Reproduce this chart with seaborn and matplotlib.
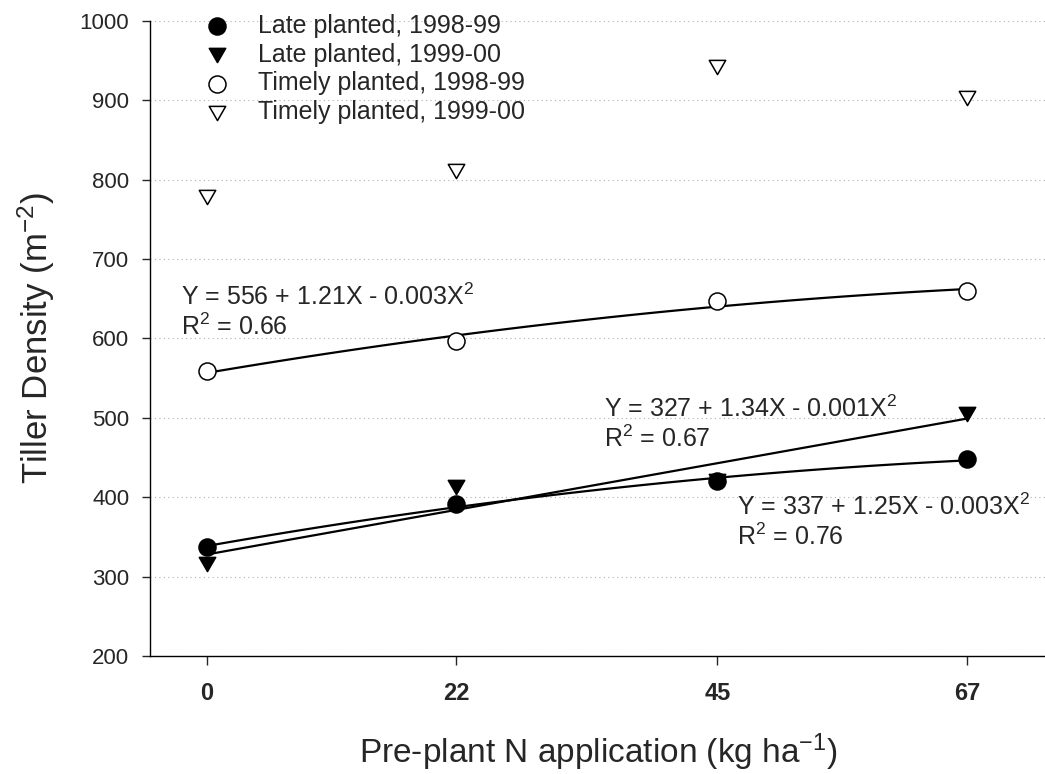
import numpy as np
import pandas as pd
import matplotlib
matplotlib.use("Agg")
import matplotlib.pyplot as plt
from matplotlib.path import Path
import seaborn as sns

# ---- data ----
n_rates = [0, 22, 45, 67]
late_9899 = [337, 392, 420, 448]
late_9900 = [316, 413, 420, 505]
timely_9899 = [559, 597, 647, 660]
timely_9900 = [778, 811, 942, 903]
series_labels = ["Late planted, 1998-99", "Late planted, 1999-00",
                 "Timely planted, 1998-99", "Timely planted, 1999-00"]
y_ticks = [200, 300, 400, 500, 600, 700, 800, 900, 1000]
x_ticks = [0, 22, 45, 67]

sns.set_theme(style="white")
plt.rcParams['font.family'] = ['Liberation Sans', 'DejaVu Sans']
plt.rcParams['mathtext.fontset'] = 'custom'
plt.rcParams['mathtext.rm'] = 'Liberation Sans'
plt.rcParams['mathtext.it'] = 'Liberation Sans:italic'
plt.rcParams['mathtext.bf'] = 'Liberation Sans:bold'

fig = plt.figure(figsize=(10.45, 7.74), dpi=100)
ax = fig.add_axes([150/1045, (774-656)/774, (1046.4-150)/1045, (656-21)/774])

df = pd.DataFrame({"x": n_rates * 4,
                   "y": late_9899 + late_9900 + timely_9899 + timely_9900,
                   "series": sum([[s] * 4 for s in series_labels], [])})

# regression lines
fits = {series_labels[0]: 2, series_labels[1]: 1, series_labels[2]: 2}
for s, order in fits.items():
    sub = df[df.series == s]
    sns.regplot(data=sub, x="x", y="y", order=order, ci=None, scatter=False,
                ax=ax, color="black", line_kws=dict(lw=1.6, zorder=2), truncate=True)

tri = Path([(-1, 0.866), (1, 0.866), (0, -0.866), (-1, 0.866)],
           [Path.MOVETO, Path.LINETO, Path.LINETO, Path.CLOSEPOLY])
styles = {
    series_labels[0]: dict(marker="o", fc="black", s=150),
    series_labels[1]: dict(marker=tri, fc="black", s=140),
    series_labels[2]: dict(marker="o", fc="white", s=150),
    series_labels[3]: dict(marker=tri, fc="white", s=140),
}
for s in series_labels:
    sub = df[df.series == s]
    st = styles[s]
    sns.scatterplot(data=sub, x="x", y="y", marker=st["marker"], s=st["s"],
                    facecolor=st["fc"], edgecolor="black", linewidth=1.1,
                    ax=ax, label=s, zorder=3)

ax.set_xlim(-5, 74)
ax.set_ylim(200, 1000)
ax.set_xticks(x_ticks)
ax.set_yticks(y_ticks)
ax.set_xticklabels([str(t) for t in x_ticks], fontweight="bold", fontsize=17)
ax.tick_params(axis="y", labelsize=16, length=6, width=1, pad=9, direction="out", left=True)
ax.tick_params(axis="x", length=6.5, width=1, pad=12, direction="out", bottom=True)
for sp in ["top", "right"]:
    ax.spines[sp].set_visible(False)
for sp in ["left", "bottom"]:
    ax.spines[sp].set_color("black")
    ax.spines[sp].set_linewidth(1.0)

ax.yaxis.grid(True, linestyle=(0, (1, 3)), color="#b0b0b0", lw=0.8)
ax.set_axisbelow(True)

ax.set_xlabel("Pre-plant N application (kg ha$^{-1}$)", fontsize=24, labelpad=19)
ax.set_ylabel("Tiller Density (m$^{-2}$)", fontsize=25, labelpad=16)

tfs = 18
ax.text(-2.3, 642, "Y = 556 + 1.21X - 0.003X$^2$", fontsize=tfs, va="baseline")
ax.text(-2.3, 604, "R$^2$ = 0.66", fontsize=tfs, va="baseline")
ax.text(35.0, 501, "Y = 327 + 1.34X - 0.001X$^2$", fontsize=tfs, va="baseline")
ax.text(35.0, 463, "R$^2$ = 0.67", fontsize=tfs, va="baseline")
ax.text(46.7, 377.5, "Y = 337 + 1.25X - 0.003X$^2$", fontsize=tfs, va="baseline")
ax.text(46.7, 340, "R$^2$ = 0.76", fontsize=tfs, va="baseline")

leg = ax.legend(loc="upper left", bbox_to_anchor=(0.0357, 1.027), frameon=False,
                fontsize=18, handlelength=2.0, handletextpad=0.64,
                labelspacing=0.19, borderaxespad=0)

fig.savefig("out.png", dpi=100)
